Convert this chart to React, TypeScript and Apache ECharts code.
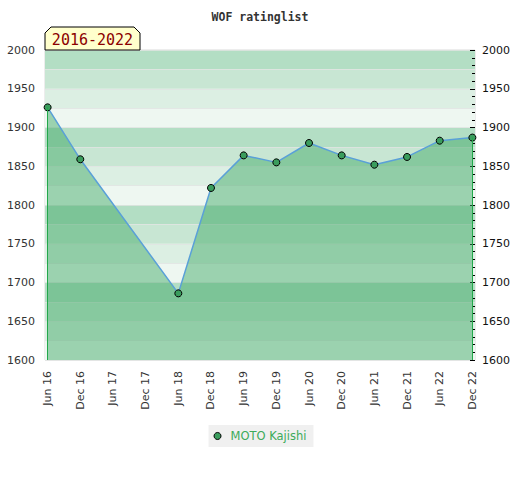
import React, { useEffect, useRef } from "react";
import * as echarts from "echarts";

const categories = [
  "Jun 16", "Dec 16", "Jun 17", "Dec 17", "Jun 18", "Dec 18", "Jun 19",
  "Dec 19", "Jun 20", "Dec 20", "Jun 21", "Dec 21", "Jun 22", "Dec 22",
];
const ratings: (number | null)[] = [
  1926, 1859, null, null, 1686, 1822, 1864, 1855, 1880, 1864, 1852, 1862, 1883, 1887,
];
const seriesName = "MOTO Kajishi";
const titleText = "WOF ratinglist";
const periodText = "2016-2022";
const yMin = 1600;
const yMax = 2000;
const bandColors = ["#eef7f1", "#dcefe3", "#c8e6d3", "#b3dec4"];

export default function App() {
  const ref = useRef<HTMLDivElement>(null);
  useEffect(() => {
    if (!ref.current) return;
    const chart = echarts.init(ref.current, null, { renderer: "svg" });
    const points = ratings
      .map((v, i) => (v == null ? null : [i, v]))
      .filter((p) => p !== null) as number[][];
    const first = points[0];
    const last = points[points.length - 1];
    const idx = categories.map((_, i) => i);
    chart.setOption({
      animation: false,
      backgroundColor: "#ffffff",
      title: {
        text: titleText,
        left: "center",
        top: 6,
        textStyle: {
          fontFamily: "DejaVu Sans Mono",
          fontWeight: "bold",
          fontSize: 11.5,
          color: "#333",
        },
      },
      legend: {
        top: 425,
        left: "center",
        backgroundColor: "#f0f0f0",
        padding: [5, 7, 5, 5],
        itemWidth: 16,
        itemHeight: 7,
        icon: "circle",
        textStyle: { color: "#3cab5a", fontSize: 11.5, fontFamily: "DejaVu Sans" },
        data: [{ name: seriesName, itemStyle: { color: "#3a9d5d", borderColor: "#000", borderWidth: 1 } }],
      },
      grid: {
        left: 45,
        right: 45,
        top: 50,
        bottom: 120,
        show: true,
        borderColor: "#dadada",
        borderWidth: 1,
        backgroundColor: "transparent",
      },
      xAxis: {
        type: "value",
        min: -0.08,
        max: categories.length - 1 + 0.08,
        axisLine: { show: false },
        axisTick: { show: false },
        splitLine: { show: false },
        axisLabel: {
          customValues: idx,
          rotate: 90,
          margin: 11,
          fontSize: 11,
          fontFamily: "DejaVu Sans",
          color: "#333",
          formatter: (v: number) => categories[Math.round(v)] ?? "",
        },
      },
      yAxis: [
        {
          type: "value",
          min: yMin,
          max: yMax,
          interval: 25,
          axisLine: { show: false },
          axisTick: { show: false },
          axisLabel: {
            fontSize: 11,
            fontFamily: "DejaVu Sans",
            color: "#333",
            margin: 10,
            formatter: (v: number) => (v % 50 === 0 ? String(v) : ""),
          },
          splitLine: { show: true, lineStyle: { color: "rgba(225,228,226,0.8)", width: 1 } },
          splitArea: { show: true, areaStyle: { color: bandColors } },
        },
        {
          type: "value",
          position: "right",
          min: yMin,
          max: yMax,
          interval: 50,
          axisLine: { show: false },
          axisTick: { show: true, inside: true, length: 5, lineStyle: { color: "#000" } },
          minorTick: { show: true, splitNumber: 5, length: 3, lineStyle: { color: "#000" } },
          splitLine: { show: false },
          axisLabel: {
            fontSize: 11,
            fontFamily: "DejaVu Sans",
            color: "#111",
            margin: 7,
            formatter: (v: number) => String(v),
          },
        },
      ],
      series: [
        {
          name: seriesName,
          type: "line",
          data: points,
          symbol: "circle",
          symbolSize: 7,
          itemStyle: { color: "#3a9d5d", borderColor: "#000", borderWidth: 1 },
          lineStyle: { color: "#5aa0d8", width: 1.5 },
          areaStyle: { origin: "start", color: "rgb(61,167,99)", opacity: 0.47 },
          markLine: {
            silent: true,
            symbol: ["none", "none"],
            label: { show: false },
            lineStyle: { color: "#22a84a", width: 1, type: "solid", opacity: 1 },
            emphasis: { disabled: true },
            data: [
              [{ coord: [first[0], first[1]] }, { coord: [first[0], yMin] }],
              [{ coord: [last[0], last[1]] }, { coord: [last[0], yMin] }],
            ],
          },
          z: 3,
        },
      ],
      graphic: [
        {
          type: "polygon",
          shape: { points: [[45, 50], [45, 33], [51, 27], [134, 27], [140, 33], [140, 50]] },
          style: { fill: "#ffffcc", stroke: "#000", lineWidth: 1 },
          z: 10,
        },
        {
          type: "text",
          x: 92.5,
          y: 40,
          style: {
            text: periodText,
            fill: "#8b0000",
            font: "15px 'DejaVu Sans Mono'",
            align: "center",
            verticalAlign: "middle",
          },
          z: 11,
        },
      ],
    });
    return () => chart.dispose();
  }, []);
  return (
    <div
      ref={ref}
      style={{ position: "fixed", left: 0, top: 0, width: 520, height: 480 }}
    />
  );
}
